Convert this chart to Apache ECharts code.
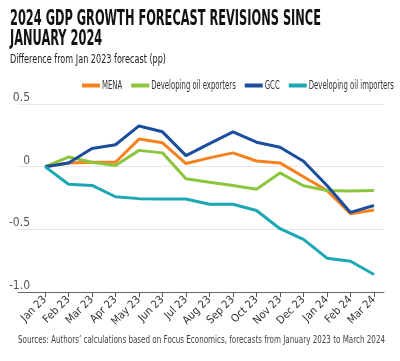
<!DOCTYPE html>
<html>
<head>
<meta charset="utf-8">
<script src="https://cdn.jsdelivr.net/npm/echarts@6/dist/echarts.min.js"></script>
<style>html,body{margin:0;padding:0;background:#fff}#c{width:400px;height:361px}</style>
</head>
<body>
<div id="c"></div>
<script>
var categories = ['Jan 23','Feb 23','Mar 23','Apr 23','May 23','Jun 23','Jul 23','Aug 23','Sep 23','Oct 23','Nov 23','Dec 23','Jan 24','Feb 24','Mar 24'];
var mena = [0, 0.03, 0.035, 0.035, 0.22, 0.19, 0.025, 0.07, 0.11, 0.045, 0.03, -0.08, -0.19, -0.375, -0.345];
var oilExporters = [0, 0.077, 0.035, 0.01, 0.13, 0.11, -0.096, -0.125, -0.15, -0.18, -0.05, -0.152, -0.19, -0.195, -0.19];
var gcc = [0, 0.03, 0.145, 0.175, 0.325, 0.278, 0.088, 0.184, 0.277, 0.195, 0.155, 0.043, -0.15, -0.365, -0.31];
var oilImporters = [0, -0.14, -0.15, -0.24, -0.255, -0.258, -0.258, -0.3, -0.3, -0.35, -0.495, -0.58, -0.73, -0.755, -0.86];
var seriesNames = ['MENA', 'Developing oil exporters', 'GCC', 'Developing oil importers'];
var yTicks = [-1, -0.5, 0, 0.5];

var titleLines = ['2024 GDP GROWTH FORECAST REVISIONS SINCE', 'JANUARY 2024'];
var subtitle = 'Difference from Jan 2023 forecast (pp)';
var source = 'Sources: Authors\u2019 calculations based on Focus Economics, forecasts from January 2023 to March 2024';

var colors = ['#F6821F', '#8CC63F', '#1B4F9E', '#1CA7B5'];
var FONT = '"Liberation Sans Narrow", "DejaVu Sans Condensed", Roboto, sans-serif';

var ctx = document.createElement('canvas').getContext('2d');
function measure(text, font) { ctx.font = font; return ctx.measureText(text).width; }

function toPairs(arr) { return arr.map(function (v, i) { return [i, v]; }); }
var allData = [mena, oilExporters, gcc, oilImporters];
var idx = categories.map(function (c, i) { return i; });

var graphics = [];
var tFont = 'bold 21px ' + FONT;
var tScale = 311 / measure(titleLines[0], tFont);
graphics.push({ type: 'text', x: 10, y: 20, scaleX: tScale, style: { text: titleLines[0], font: tFont, fill: '#111', verticalAlign: 'middle', align: 'left' } });
graphics.push({ type: 'text', x: 10, y: 40, scaleX: tScale, style: { text: titleLines[1], font: tFont, fill: '#111', verticalAlign: 'middle', align: 'left' } });
var sFont = '12.5px ' + FONT;
graphics.push({ type: 'text', x: 10, y: 59.5, scaleX: 156 / measure(subtitle, sFont), style: { text: subtitle, font: sFont, fill: '#222', verticalAlign: 'middle', align: 'left' } });
var srcFont = '11px ' + FONT;
graphics.push({ type: 'text', x: 18, y: 340.5, scaleX: 367 / measure(source, srcFont), style: { text: source, font: srcFont, fill: '#444', verticalAlign: 'middle', align: 'left' } });

var lFont = '12.5px ' + FONT;
var lScale = 85 / measure(seriesNames[3], lFont);
var lx = 82, ly = 85.5;
seriesNames.forEach(function (n, i) {
  graphics.push({ type: 'line', shape: { x1: lx, y1: ly, x2: lx + 18, y2: ly }, style: { stroke: colors[i], lineWidth: 4 } });
  lx += 20;
  var w = measure(n, lFont) * lScale;
  graphics.push({ type: 'text', x: lx, y: ly, scaleX: lScale, style: { text: n, font: lFont, fill: '#333', verticalAlign: 'middle', align: 'left' } });
  lx += w + 9;
});

var chart = echarts.init(document.getElementById('c'), null, { renderer: 'canvas' });
chart.setOption({
  animation: false,
  grid: { left: 18, right: 16, top: 104, bottom: 69 },
  xAxis: {
    type: 'value',
    min: -1.149,
    max: 14.426,
    splitLine: { show: false },
    axisLine: { show: true, onZero: false, lineStyle: { color: '#666', width: 1 } },
    axisTick: { show: true, customValues: idx, length: 5, lineStyle: { color: '#555' } },
    axisLabel: {
      customValues: idx,
      rotate: 45,
      margin: 6,
      fontFamily: FONT,
      fontSize: 11,
      color: '#333',
      formatter: function (v) { return categories[Math.round(v)] || ''; }
    }
  },
  yAxis: {
    type: 'value',
    min: yTicks[0],
    max: yTicks[yTicks.length - 1],
    interval: 0.5,
    axisLine: { show: false },
    axisTick: { show: false },
    splitLine: { lineStyle: { color: '#e6e6e6', width: 1 } },
    axisLabel: {
      inside: true,
      margin: 12,
      align: 'right',
      verticalAlign: 'bottom',
      padding: [0, 0, 0, 0],
      fontFamily: FONT,
      fontSize: 12,
      color: '#555',
      formatter: function (v) { return v === 0 ? '0' : v.toFixed(1); }
    }
  },
  series: seriesNames.map(function (n, i) {
    return {
      name: n, type: 'line', data: toPairs(allData[i]), symbol: 'none',
      lineStyle: { color: colors[i], width: 3 }, itemStyle: { color: colors[i] }
    };
  }),
  graphic: graphics
});
</script>
</body>
</html>
